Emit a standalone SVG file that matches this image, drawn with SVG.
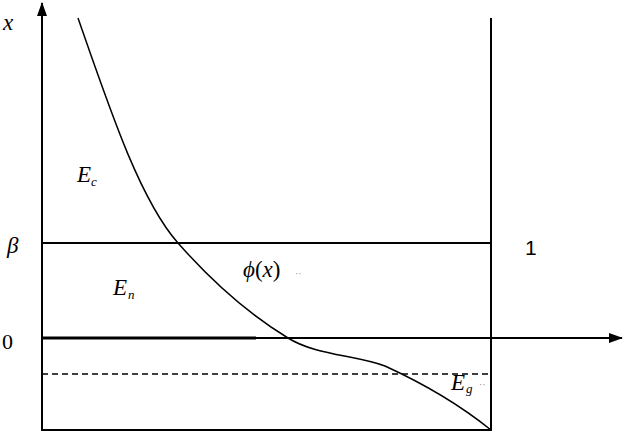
<svg xmlns="http://www.w3.org/2000/svg" width="623" height="432" viewBox="0 0 623 432">
<style>
.ln{stroke:#000;stroke-width:2;fill:none}
.t{font-family:'Liberation Serif','Times New Roman','DejaVu Serif',serif;font-style:italic;font-size:23px;fill:#000}
.s{font-family:'Liberation Serif','Times New Roman','DejaVu Serif',serif;font-style:italic;font-size:13px;fill:#000}
.r{font-family:'Liberation Serif','Times New Roman','DejaVu Serif',serif;font-size:22px;fill:#000}
.m{font-family:'Liberation Serif','Times New Roman','DejaVu Serif',serif;font-size:10px;fill:#888}
</style>
<defs>
<marker id="ah" markerWidth="14" markerHeight="10" refX="13" refY="5" orient="auto" markerUnits="userSpaceOnUse">
<path d="M0,0 L14,5 L0,10 Z" fill="#000"/>
</marker>
</defs>
<rect width="623" height="432" fill="#fff"/>
<g id="connectors">
<line class="ln" x1="42" y1="431" x2="42" y2="3" marker-end="url(#ah)"/>
<line class="ln" x1="42" y1="338" x2="622" y2="338" marker-end="url(#ah)"/>
<line x1="42" y1="338" x2="256" y2="338" stroke="#000" stroke-width="3"/>
<line class="ln" x1="491" y1="18" x2="491" y2="431"/>
<line class="ln" x1="42" y1="430" x2="491" y2="430"/>
<line class="ln" x1="42" y1="243" x2="491" y2="243"/>
<line x1="42" y1="374" x2="491" y2="374" stroke="#000" stroke-width="1.5" stroke-dasharray="6,4"/>
<path d="M78,18 C110,110 140,200 178,243 C215,285 255,318 288,338 C315,355 355,355 385,366 C420,382 460,405 491,430" stroke="#000" stroke-width="1.5" fill="none"/>
</g>
<g id="labels">
<text class="t" x="3" y="30">x</text>
<text class="t" x="77" y="182">E</text><text class="s" x="91" y="186">c</text>
<text class="t" x="7" y="253">β</text>
<text class="t" x="113" y="295">E</text><text class="s" x="128" y="299">n</text>
<text class="t" x="243" y="277">ϕ<tspan font-style="normal">(</tspan>x<tspan font-style="normal">)</tspan></text><text class="m" x="295" y="277">··</text>
<text class="r" x="2" y="349">0</text>
<text x="525" y="255" font-family="'Liberation Sans',Arial,sans-serif" font-size="21">1</text>
<text class="t" x="451" y="390">E</text><text class="s" x="466" y="393">g</text><text class="m" x="479" y="388">··</text>
</g>
</svg>
